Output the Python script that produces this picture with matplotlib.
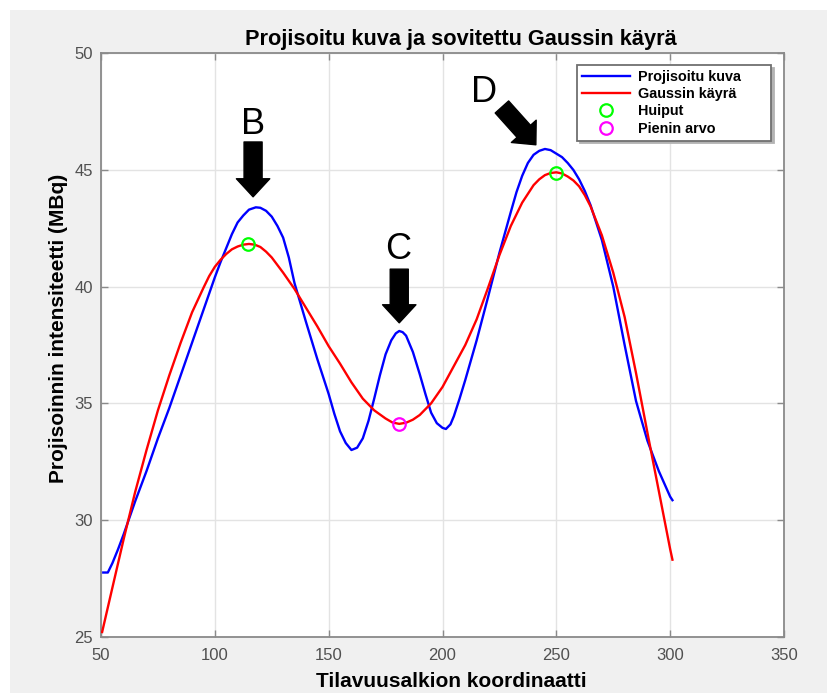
#!/usr/bin/env python3
# -*- coding:utf-8 -*-

import matplotlib as mpl
mpl.use('Agg')
import matplotlib.pyplot as plt
from matplotlib.patches import Rectangle


# projected image profile (blue)
proj_x = [51, 53, 55, 57.5, 60, 65, 70, 75, 80, 85, 90, 95, 100, 102.5, 105,
          107.5, 110, 112.5, 115, 118, 120, 122.5, 125, 127.5, 130, 132.5,
          135, 140, 145, 150, 152.5, 155, 157.5, 160, 162.5, 165, 167.5, 170,
          172.5, 175, 177.5, 179.5, 181, 182.5, 184, 187, 190, 192.5, 195,
          197.5, 200, 201.5, 203.5, 205, 207.5, 210, 215, 220, 225, 230,
          232.5, 235, 237.5, 240, 242.5, 245, 247.5, 250, 252.5, 255, 257.5,
          260, 262.5, 265, 270, 275, 280, 285, 290, 295, 300, 301]
proj_y = [27.75, 27.75, 28.15, 28.75, 29.4, 30.8, 32.1, 33.5, 34.8, 36.2,
          37.6, 39.0, 40.4, 41.05, 41.65, 42.25, 42.75, 43.05, 43.3, 43.4,
          43.38, 43.25, 43.0, 42.6, 42.1, 41.25, 40.15, 38.5, 36.9, 35.4,
          34.55, 33.8, 33.3, 33.0, 33.1, 33.5, 34.25, 35.2, 36.2, 37.1, 37.7,
          38.0, 38.1, 38.05, 37.9, 37.2, 36.25, 35.4, 34.6, 34.15, 33.95, 33.9,
          34.1, 34.45, 35.2, 36.0, 37.7, 39.55, 41.45, 43.2, 44.05, 44.75,
          45.3, 45.65, 45.82, 45.9, 45.85, 45.7, 45.55, 45.3, 45.0, 44.6,
          44.1, 43.5, 42.0, 40.0, 37.5, 35.1, 33.4, 32.1, 31.0, 30.85]

# fitted gaussian curve (red)
gauss_x = [50.5, 55, 60, 65, 70, 75, 80, 85, 90, 95, 97.5, 100, 102.5, 105,
           107.5, 110, 112.5, 115, 117.5, 120, 122.5, 125, 130, 135, 140, 145,
           150, 155, 160, 165, 170, 175, 178, 181, 184, 187, 190, 195, 200,
           205, 210, 215, 220, 225, 230, 235, 240, 242.5, 245, 247.5, 250,
           252.5, 255, 257.5, 260, 262.5, 265, 270, 275, 280, 285, 290, 295,
           300, 301]
gauss_y = [25.2, 27.1, 29.2, 31.2, 33.0, 34.7, 36.2, 37.6, 38.9, 39.95, 40.45,
           40.85, 41.15, 41.4, 41.6, 41.72, 41.8, 41.83, 41.8, 41.7, 41.5,
           41.25, 40.6, 39.9, 39.1, 38.3, 37.45, 36.7, 35.9, 35.2, 34.7, 34.35,
           34.18, 34.12, 34.17, 34.3, 34.5, 35.0, 35.7, 36.6, 37.5, 38.6,
           39.95, 41.35, 42.6, 43.6, 44.35, 44.6, 44.78, 44.87, 44.9, 44.85,
           44.72, 44.55, 44.3, 43.92, 43.45, 42.2, 40.6, 38.7, 36.3, 33.75,
           31.25, 28.75, 28.3]

peaks_x = [114.6, 249.8]
peaks_y = [41.83, 44.87]
min_x = [180.9]
min_y = [34.12]

# arrows: (label, tail, tip, label position)
arrows = [
    ('B', (116.8, 46.2), (116.8, 43.85), (116.6, 46.93)),
    ('C', (181.0, 40.75), (181.0, 38.45), (180.6, 41.6)),
    ('D', (226.1, 47.7), (241.0, 46.08), (218.2, 48.3)),
]

xticks = [50, 100, 150, 200, 250, 300, 350]
yticks = [25, 30, 35, 40, 45, 50]

FONT = 'Liberation Sans'
W, H = 827, 693

fig = plt.figure(figsize=(W / 100, H / 100), dpi=100, facecolor='white')
fig.add_artist(Rectangle((10 / W, 0), 1, (H - 10) / H, transform=fig.transFigure,
                         facecolor='#f0f0f0', edgecolor='none', zorder=-10))

ax = fig.add_axes([101 / W, (H - 636.7) / H, 683 / W, 583.4 / H])
ax.set_facecolor('white')

ax.plot(proj_x, proj_y, color='#0000ff', lw=1.7, label='Projisoitu kuva', zorder=3)
ax.plot(gauss_x, gauss_y, color='#ff0000', lw=1.7, label='Gaussin käyrä', zorder=4)
ax.plot(peaks_x, peaks_y, 'o', ms=9, mfc='none', mec='#00ff00', mew=1.6,
        label='Huiput', zorder=5)
ax.plot(min_x, min_y, 'o', ms=9, mfc='none', mec='#ff00ff', mew=1.6,
        label='Pienin arvo', zorder=5)

for name, tail, tip, lpos in arrows:
    ax.annotate('', xy=tip, xytext=tail,
                arrowprops=dict(arrowstyle='simple,head_length=13,head_width=24,tail_width=13',
                                mutation_scale=1, fc='black', ec='black',
                                shrinkA=0, shrinkB=0), zorder=6)
    ax.text(lpos[0], lpos[1], name, fontsize=26, family=FONT,
            ha='center', va='center', color='black', zorder=6)

ax.set_xlim(50, 350)
ax.set_ylim(25, 50)
ax.set_xticks(xticks)
ax.set_yticks(yticks)
ax.grid(True, color='#e3e3e3', lw=1.0, zorder=0)
ax.set_axisbelow(True)
for sp in ax.spines.values():
    sp.set_color('#8a8a8a')
    sp.set_linewidth(1.3)
ax.tick_params(direction='in', length=5, width=1, color='#8a8a8a',
               top=True, right=True, labelsize=12, labelcolor='#505050')
ax.tick_params(axis='x', pad=8)
ax.tick_params(axis='y', pad=6)
for lab in ax.get_xticklabels() + ax.get_yticklabels():
    lab.set_family(FONT)

# legend box spans about x 577..771 px in the reference
leg = ax.legend(loc='upper right', bbox_to_anchor=(0.697, 0.5, 0.284, 0.48),
                mode='expand', borderaxespad=0,
                prop={'family': FONT, 'weight': 'bold', 'size': 10.4},
                handlelength=3.3, handletextpad=0.6, labelspacing=0.22,
                borderpad=0.35, fancybox=False, framealpha=1,
                edgecolor='#707070', shadow={'color': '0.7', 'alpha': 1})
leg.get_frame().set_linewidth(1.3)

fig.text(461 / W, (H - 45) / H, 'Projisoitu kuva ja sovitettu Gaussin käyrä',
         family=FONT, weight='bold', fontsize=15.7, ha='center', va='baseline')
fig.text(451 / W, (H - 687) / H, 'Tilavuusalkion koordinaatti',
         family=FONT, weight='bold', fontsize=15, ha='center', va='baseline')
fig.text(59 / W, (H - 328.5) / H, 'Projisoinnin intensiteetti (MBq)',
         family=FONT, weight='bold', fontsize=15, ha='center', va='center',
         rotation=90)

fig.savefig('out.png', dpi=100, facecolor=fig.get_facecolor())
